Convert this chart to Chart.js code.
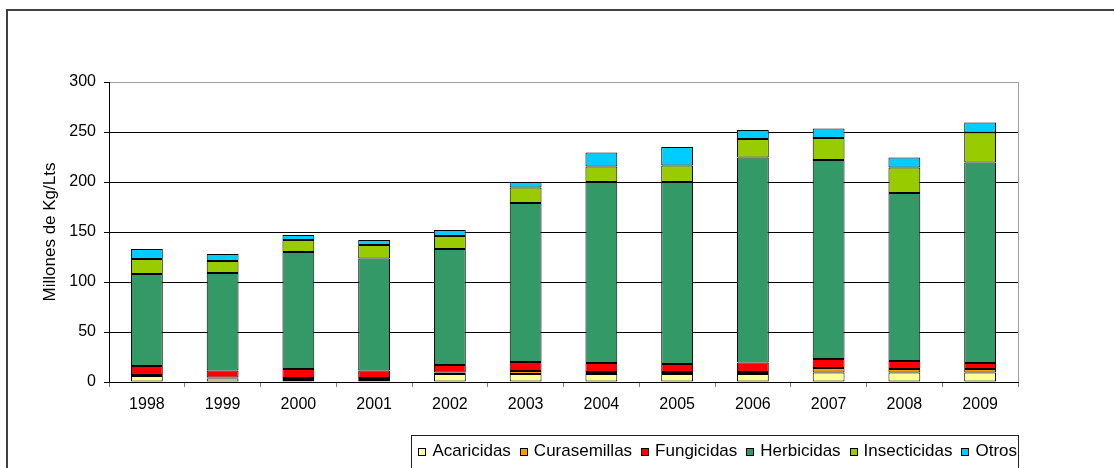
<!DOCTYPE html>
<html>
<head>
<meta charset="utf-8">
<script src="https://cdn.jsdelivr.net/npm/chart.js@4/dist/chart.umd.min.js"></script>
<style>
  body { margin: 0; background: #fff; }
  #wrap { position: relative; width: 1114px; height: 468px; overflow: hidden; }
  #chart { display: block; }
  #frame { position: absolute; left: 6px; top: 9px; width: 1200px; height: 600px;
           border-left: 2px solid #404040; border-top: 2px solid #404040; pointer-events: none; }
</style>
</head>
<body>
<div id="wrap">
  <div id="frame"></div>
  <canvas id="chart" width="1114" height="468"></canvas>
</div>
<script>
// Data (millones de Kg/Lts)
const years = ['1998', '1999', '2000', '2001', '2002', '2003', '2004', '2005', '2006', '2007', '2008', '2009'];
const acaricidas = [6, 3.5, 2, 2, 8, 8, 8, 8, 8, 9.5, 9.5, 9.5];
const curasemillas = [1, 1, 2, 2, 1.5, 3, 2, 2, 2, 4.5, 3.5, 3.5];
const fungicidas = [9, 7, 9, 7.5, 7.5, 9, 9, 8, 9.5, 9, 8, 6];
const herbicidas = [92, 97.5, 117, 112, 116, 159, 181, 182, 205, 199, 168, 200.5];
const insecticidas = [15, 12, 12, 13.5, 13, 15.5, 15.5, 16.5, 18.5, 22, 25.5, 30];
const otros = [10, 7, 5, 5, 6, 5.5, 14, 18.5, 9, 9.5, 10, 10];

const seriesNames = ['Acaricidas', 'Curasemillas', 'Fungicidas', 'Herbicidas', 'Insecticidas', 'Otros'];
const seriesData = [acaricidas, curasemillas, fungicidas, herbicidas, insecticidas, otros];
const seriesColors = ['#FFFF99', '#FF9900', '#FF0000', '#339966', '#99CC00', '#00CCFF'];

const font = "'Liberation Sans', Arial, sans-serif";

// Gray border on the right of the plot area
const plotBorder = {
    id: 'plotBorder',
    afterDraw(chart) {
        const { ctx, chartArea } = chart;
        ctx.save();
        ctx.strokeStyle = '#a0a0a0';
        ctx.lineWidth = 1;
        ctx.beginPath();
        ctx.moveTo(Math.round(chartArea.right) + 0.5, chartArea.top);
        ctx.lineTo(Math.round(chartArea.right) + 0.5, chartArea.bottom);
        ctx.stroke();
        ctx.restore();
    }
};

// Boxed legend under the chart, right-aligned with the plot
const boxLegend = {
    id: 'boxLegend',
    afterDraw(chart) {
        const { ctx, chartArea } = chart;
        const right = Math.round(chartArea.right) + 1;
        const top = 435;
        const textY = 451;
        ctx.save();
        ctx.font = '17px ' + font;
        ctx.textBaseline = 'middle';
        ctx.textAlign = 'left';
        let total = 7;
        seriesNames.forEach((name, i) => {
            total += 8 + 6 + ctx.measureText(name).width + (i < seriesNames.length - 1 ? 9 : 2);
        });
        const left = right - total;
        ctx.strokeStyle = '#222';
        ctx.lineWidth = 1;
        ctx.strokeRect(Math.round(left) + 0.5, top + 0.5, Math.round(right - left) - 1, 60);
        let x = left + 7;
        chart.data.datasets.forEach((ds, i) => {
            ctx.fillStyle = ds.backgroundColor;
            ctx.fillRect(Math.round(x), textY - 3, 8, 8);
            ctx.strokeStyle = '#000';
            ctx.strokeRect(Math.round(x) + 0.5, textY - 2.5, 7, 7);
            x += 8 + 6;
            ctx.fillStyle = '#000';
            ctx.fillText(ds.label, x, textY);
            x += ctx.measureText(ds.label).width + 9;
        });
        ctx.restore();
    }
};

const chart = new Chart(document.getElementById('chart').getContext('2d'), {
    type: 'bar',
    data: {
        labels: years,
        datasets: seriesNames.map((name, i) => ({
            label: name,
            data: seriesData[i],
            backgroundColor: seriesColors[i],
            borderColor: '#000',
            borderWidth: 1,
            borderSkipped: false,
            categoryPercentage: 1,
            barPercentage: 0.42
        }))
    },
    options: {
        responsive: false,
        devicePixelRatio: 1,
        animation: false,
        layout: { padding: { left: 40, top: 82, right: 96, bottom: 0 } },
        plugins: {
            legend: { display: false },
            tooltip: { enabled: false }
        },
        scales: {
            x: {
                stacked: true,
                afterFit: (scale) => { scale.height = 86; },
                grid: { offset: true, drawOnChartArea: false, tickLength: 5, tickColor: '#808080' },
                border: { color: '#000', width: 1 },
                ticks: { color: '#000', padding: 8, font: { family: font, size: 16 }, maxRotation: 0 }
            },
            y: {
                stacked: true,
                min: 0,
                max: 300,
                afterFit: (scale) => { scale.width = 69; },
                grid: {
                    color: (ctx) => ctx.tick && ctx.tick.value === 300 ? '#a0a0a0' : '#000',
                    tickColor: '#000',
                    tickLength: 5
                },
                border: { color: '#000', width: 1 },
                ticks: { stepSize: 50, color: '#000', padding: 8, font: { family: font, size: 16 } },
                title: {
                    display: true,
                    text: 'Millones de Kg/Lts',
                    color: '#000',
                    padding: 0,
                    font: { family: font, size: 17 }
                }
            }
        }
    },
    plugins: [plotBorder, boxLegend]
});
</script>
</body>
</html>
